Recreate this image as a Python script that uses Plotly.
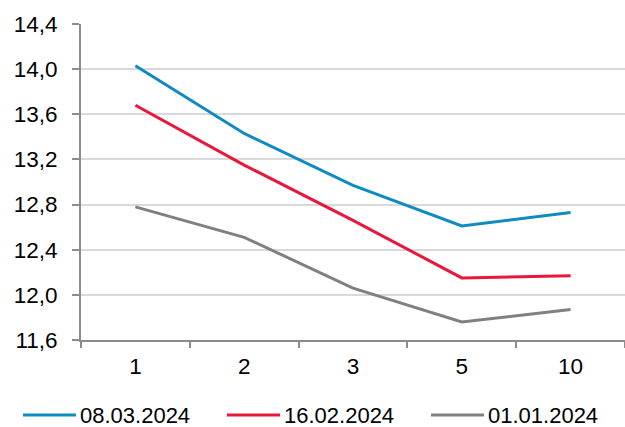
import plotly.graph_objects as go

categories = ["1", "2", "3", "5", "10"]
s_0803 = [14.03, 13.43, 12.97, 12.61, 12.73]
s_1602 = [13.68, 13.15, 12.66, 12.15, 12.17]
s_0101 = [12.78, 12.51, 12.06, 11.76, 11.87]
y_ticks = [11.6, 12.0, 12.4, 12.8, 13.2, 13.6, 14.0, 14.4]
y_tick_labels = ["11,6", "12,0", "12,4", "12,8", "13,2", "13,6", "14,0", "14,4"]
series_names = ["08.03.2024", "16.02.2024", "01.01.2024"]
series_colors = ["#0f8bc1", "#e9183a", "#808080"]
series_values = [s_0803, s_1602, s_0101]

W, H = 625, 427
ML, MR, MT, MB = 81, 0, 24, 87
PW, PH = W - ML - MR, H - MT - MB

fig = go.Figure()
for name, vals, color in zip(series_names, series_values, series_colors):
    fig.add_trace(go.Scatter(x=categories, y=vals, name=name, mode="lines",
                             line=dict(color=color, width=3), showlegend=False))

FAM = "Liberation Sans, Arial, sans-serif"
tick_font = dict(family=FAM, size=22.5, color="#000000")

# custom legend (longer symbol lines as in reference)
leg_y = (MT + PH - 415) / PH
leg_starts = [23, 227, 431]
line_len = 53
shapes = []
annotations = []
for name, color, x0 in zip(series_names, series_colors, leg_starts):
    shapes.append(dict(type="line", xref="paper", yref="paper",
                       x0=(x0 - ML) / PW, x1=(x0 + line_len - ML) / PW,
                       y0=leg_y, y1=leg_y, line=dict(color=color, width=3)))
    annotations.append(dict(xref="paper", yref="paper", x=(x0 + line_len + 2 - ML) / PW,
                            y=leg_y, xanchor="left", yanchor="middle", showarrow=False,
                            text=name, font=dict(family=FAM, size=22, color="#000000")))

fig.update_layout(
    width=W, height=H,
    margin=dict(l=ML, r=MR, t=MT, b=MB, autoexpand=False),
    paper_bgcolor="white", plot_bgcolor="white",
    font=tick_font,
    showlegend=False,
    shapes=shapes, annotations=annotations,
    xaxis=dict(type="category", showgrid=False, showline=True, linecolor="#8c8c8c", linewidth=2,
               ticks="outside", tickson="boundaries", ticklen=6, tickcolor="#8c8c8c", tickwidth=2,
               range=[-0.5, 4.5], tickfont=tick_font, automargin=False, ticklabelstandoff=5),
    yaxis=dict(range=[11.6, 14.4], tickvals=y_ticks, ticktext=y_tick_labels,
               showgrid=True, gridcolor="#d9d9d9", gridwidth=2,
               showline=True, linecolor="#8c8c8c", linewidth=2,
               ticks="outside", ticklen=7, tickcolor="#8c8c8c", tickwidth=2,
               zeroline=False, tickfont=tick_font, automargin=False, ticklabelstandoff=10),
)

fig.write_html("out.html", config={"displayModeBar": False},
               post_script="document.body.style.margin='0';document.body.style.overflow='hidden';")
